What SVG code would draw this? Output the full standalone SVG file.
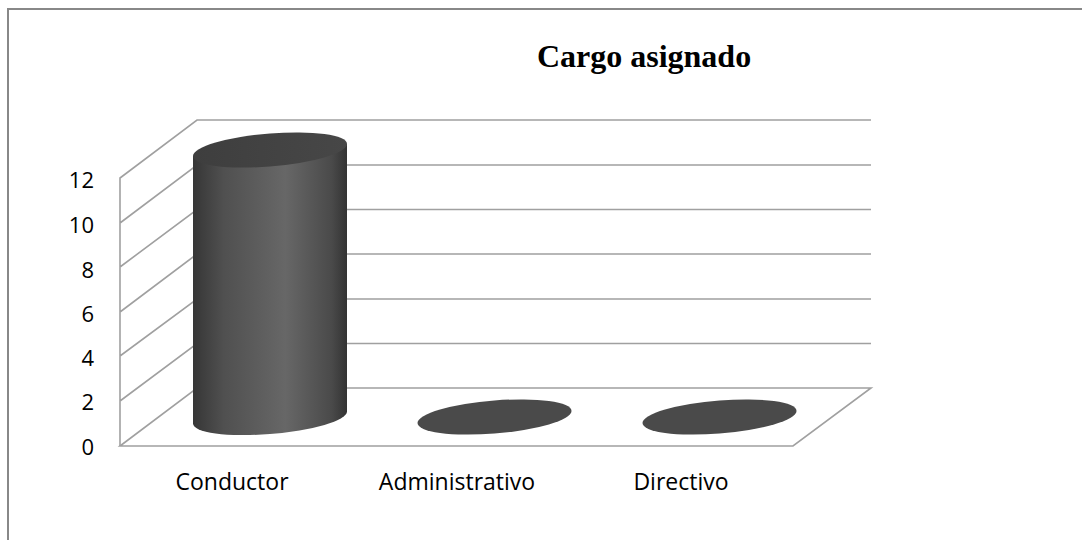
<svg xmlns="http://www.w3.org/2000/svg" width="1082" height="540" viewBox="0 0 1082 540">
<defs>
<style>
.grid{stroke:#a0a0a0;stroke-width:1.6;fill:none}
.ax{font-family:"Open Sans","Liberation Sans",sans-serif;font-size:22px;fill:#000;text-anchor:end}
.cat{font-family:"Open Sans","Liberation Sans",sans-serif;font-size:23px;fill:#000;text-anchor:middle}
.flat{fill:#4a4a4a}
</style>
<linearGradient id="body" x1="0" y1="0" x2="1" y2="0">
<stop offset="0" stop-color="#363636"/>
<stop offset="0.2" stop-color="#505050"/>
<stop offset="0.6" stop-color="#676767"/>
<stop offset="0.9" stop-color="#4a4a4a"/>
<stop offset="1" stop-color="#333333"/>
</linearGradient>
<linearGradient id="top" x1="0" y1="0" x2="1" y2="0">
<stop offset="0" stop-color="#3e3e3e"/>
<stop offset="1" stop-color="#474747"/>
</linearGradient>
</defs>
<rect x="0" y="0" width="1082" height="540" fill="#fff"/>
<path d="M8,540 V9 H1082" fill="none" stroke="#888" stroke-width="2"/>
<text x="644" y="67" font-family="'Liberation Serif',serif" font-weight="bold" font-size="32" text-anchor="middle">Cargo asignado</text>
<g id="axes">
<polygon points="120,446 197,388 871,388 793,446" fill="#fff" stroke="#a0a0a0" stroke-width="1.6"/>
<path class="grid" d="M120,446 V178 L197,120 H871 M120,223 L197,165 H871 M120,267 L197,209.5 H871 M120,312 L197,254 H871 M120,356 L197,299 H871 M120,401 L197,343.5 H871"/>
</g>
<g id="ylabels">
<text class="ax" x="94" y="188">12</text>
<text class="ax" x="94" y="233">10</text>
<text class="ax" x="94" y="278">8</text>
<text class="ax" x="94" y="322">6</text>
<text class="ax" x="94" y="366">4</text>
<text class="ax" x="94" y="410">2</text>
<text class="ax" x="94" y="455">0</text>
</g>
<g id="bar-conductor" transform="translate(270,0) skewY(-4.5)">
<path d="M-77,150 V417.5 A77,16.5 0 0 0 77,417.5 V150 Z" fill="url(#body)"/>
<ellipse cx="0" cy="150" rx="77" ry="16.5" fill="url(#top)"/>
</g>
<g id="bar-administrativo" transform="translate(494.5,0) skewY(-4.5)">
<ellipse class="flat" cx="0" cy="417" rx="77" ry="16.5"/>
</g>
<g id="bar-directivo" transform="translate(719.5,0) skewY(-4.5)">
<ellipse class="flat" cx="0" cy="417" rx="77" ry="16.5"/>
</g>
<g id="xlabels">
<text class="cat" x="232" y="490">Conductor</text>
<text class="cat" x="457" y="490">Administrativo</text>
<text class="cat" x="681" y="490">Directivo</text>
</g>
</svg>
